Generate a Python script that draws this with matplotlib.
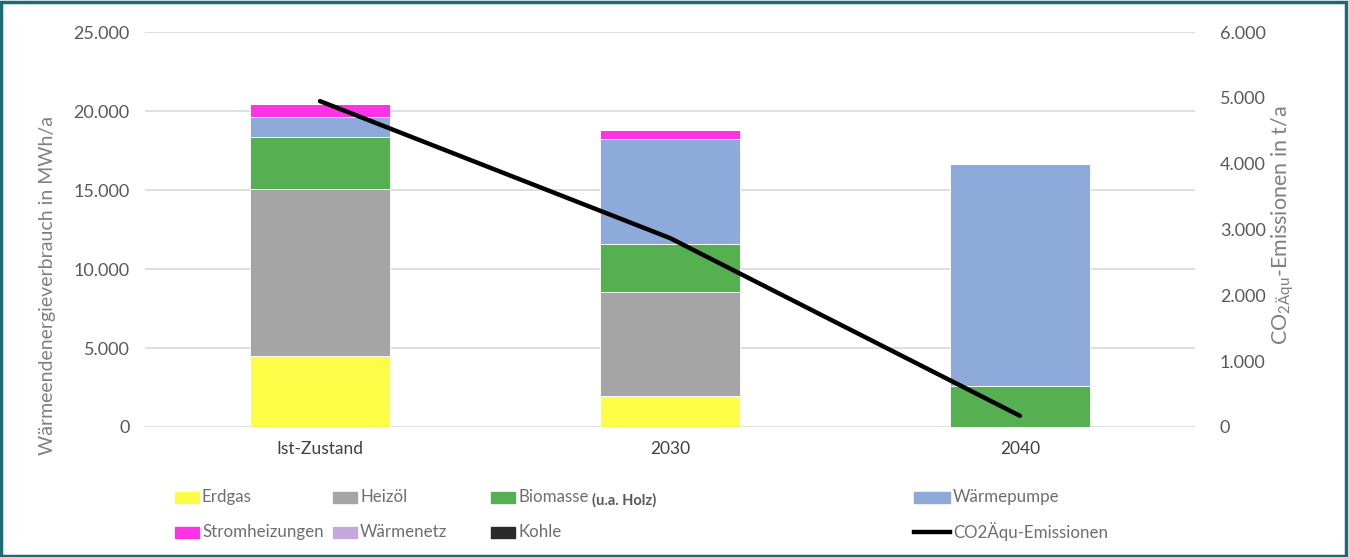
import matplotlib.pyplot as plt
from matplotlib.patches import Rectangle
from matplotlib.lines import Line2D
from matplotlib.ticker import FuncFormatter

# data
categories = ["Ist-Zustand", "2030", "2040"]
erdgas = [4490, 1960, 0]
heizoel = [10570, 6580, 0]
biomasse = [3290, 3040, 2600]
waermepumpe = [1270, 6650, 14050]
strom = [820, 570, 0]
waermenetz = [0, 0, 0]
kohle = [0, 0, 0]
co2 = [4950, 2870, 170]

series = [
    ("Erdgas", erdgas, "#FDFD47"),
    ("Heizöl", heizoel, "#A5A5A5"),
    ("Biomasse", biomasse, "#56B051"),
    ("Wärmepumpe", waermepumpe, "#8EAADB"),
    ("Stromheizungen", strom, "#FF33E6"),
    ("Wärmenetz", waermenetz, "#C5A9DC"),
    ("Kohle", kohle, "#2B2B2B"),
]

grey = "#595959"
plt.rcParams["mathtext.fontset"] = "custom"
plt.rcParams["mathtext.rm"] = "Lato"


def de_fmt(v, pos):
    return f"{int(round(v)):,}".replace(",", ".")


fig = plt.figure(figsize=(13.49, 5.57), dpi=100)
ax = fig.add_axes([0.1075, 0.2334, 0.7783, 0.7091])
ax2 = ax.twinx()

x = list(range(len(categories)))
bottom = [0, 0, 0]
for name, vals, col in series:
    ax.bar(x, vals, 0.4, bottom=bottom, color=col, edgecolor="white", linewidth=0.6, zorder=2)
    bottom = [b + v for b, v in zip(bottom, vals)]

ax2.plot(x, co2, color="black", linewidth=3.2, solid_capstyle="round", zorder=5)

ax.set_xlim(-0.5, 2.5)
ax.set_ylim(0, 25000)
ax2.set_ylim(0, 6000)
ax.set_yticks(range(0, 25001, 5000))
ax2.set_yticks(range(0, 6001, 1000))
ax.yaxis.set_major_formatter(FuncFormatter(de_fmt))
ax2.yaxis.set_major_formatter(FuncFormatter(de_fmt))
ax.set_xticks(x)
ax.set_xticklabels(categories)

ax.grid(axis="y", color="#D9D9D9", linewidth=1.2, zorder=0)
ax.set_axisbelow(True)
for a in (ax, ax2):
    for s in a.spines.values():
        s.set_visible(False)
    a.tick_params(length=0)
ax.tick_params(axis="y", labelsize=13, labelcolor=grey, pad=11)
ax.tick_params(axis="x", labelsize=12.5, labelcolor="#404040", pad=10)
ax2.tick_params(axis="y", labelsize=13, labelcolor=grey, pad=18)
for lab in ax.get_yticklabels() + ax2.get_yticklabels() + ax.get_xticklabels():
    lab.set_family("Lato")

fig.text(0.035, 0.488, "Wärmeendenergieverbrauch in MWh/a", rotation=90,
         ha="center", va="center", fontsize=14, color="#808080", family="Lato")
fig.text(0.951, 0.596, "CO$_{\\mathrm{2Äqu}}$-Emissionen in t/a", rotation=90,
         ha="center", va="center", fontsize=15.5, color="#808080", family="Lato")

# legend, placed by hand like the original
W, H = 1349, 557
entries = [
    ("Erdgas", 175, 497, "patch", "#FDFD47", 24),
    ("Heizöl", 333, 497, "patch", "#A5A5A5", 24),
    ("Biomasse", 491, 497, "patch", "#56B051", 24),
    ("Wärmepumpe", 914, 497, "patch", "#8EAADB", 36),
    ("Stromheizungen", 175, 532, "patch", "#FF33E6", 24),
    ("Wärmenetz", 333, 532, "patch", "#C5A9DC", 24),
    ("Kohle", 491, 532, "patch", "#2B2B2B", 24),
    ("CO2Äqu-Emissionen", 914, 532, "line", "black", 36),
]
for name, px, py, kind, col, w in entries:
    if kind == "patch":
        fig.patches.append(Rectangle((px / W, 1 - (py + 5.5) / H), w / W, 11 / H,
                                     transform=fig.transFigure, color=col))
    else:
        fig.lines.append(Line2D([px / W, (px + w) / W], [1 - py / H, 1 - py / H],
                                transform=fig.transFigure, color=col, linewidth=3.2))
    fig.text((px + w + 3) / W, 1 - py / H, name, ha="left", va="center",
             fontsize=12.2, color="#6E6E6E", family="Lato")
fig.text(624 / W, 1 - 500 / H, "(u.a. Holz)", ha="center", va="center",
         fontsize=10.5, color=grey, family="Lato", fontweight="bold")

fig.patches.append(Rectangle((0.001, 0.002), 0.997, 0.995, transform=fig.transFigure,
                             fill=False, edgecolor="#1B6A74", linewidth=2.5))

fig.savefig("out.png", dpi=100)
